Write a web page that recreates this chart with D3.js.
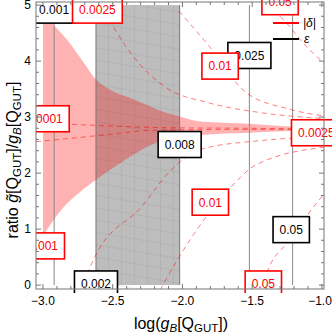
<!DOCTYPE html>
<html>
<head>
<meta charset="utf-8">
<script src="https://cdn.jsdelivr.net/npm/d3@7"></script>
<style>
  body { margin: 0; background: #fff; }
  text { font-family: "Liberation Sans", Arial, sans-serif; }
</style>
</head>
<body>
<svg id="chart" width="332" height="335"></svg>
<script>
// epsilon contours (vertical lines) and the grey excluded band
const epsLines = [-2.92, -1.52, -1.21];
const bandX = [-2.62, -2.02];
const bandY = [0, 5];

// red shaded region, upper and lower edge
const shadeUpper = [[-3.0, 4.87], [-2.93, 4.66], [-2.83, 4.39], [-2.71, 3.98], [-2.62, 3.67],
  [-2.52, 3.49], [-2.35, 3.32], [-2.12, 3.08], [-2.02, 3.01], [-1.87, 2.92], [-1.52, 2.88],
  [-1.23, 2.83], [-1.0, 2.80]];
const shadeLower = [[-3.0, 0.88], [-2.88, 1.31], [-2.73, 1.67], [-2.62, 1.88], [-2.41, 2.24],
  [-2.18, 2.55], [-2.02, 2.64], [-1.87, 2.68], [-1.52, 2.72], [-1.23, 2.75], [-1.0, 2.77]];

// dashed |delta| contours
const d0001Up = [[-3.05, 2.90], [-2.6, 2.85], [-2.12, 2.81], [-1.52, 2.80], [-0.96, 2.78]];
const d0001Lo = [[-3.05, 2.56], [-2.6, 2.67], [-2.18, 2.77], [-1.52, 2.78], [-0.96, 2.78]];
const d0025Up = [[-2.59, 5.02], [-2.355, 4.09], [-2.12, 3.53], [-1.82, 3.26], [-1.44, 3.08], [-0.96, 2.97]];
const d0025Lo = [[-2.71, 0.05], [-2.61, 0.59], [-2.30, 1.38], [-2.09, 2.03], [-1.875, 2.42], [-1.44, 2.58], [-0.96, 2.65]];
const d01Up = [[-2.025, 4.89], [-1.81, 4.27], [-1.545, 3.44], [-1.23, 3.14], [-0.96, 3.01]];
const d01Lo = [[-2.16, -0.09], [-2.12, 0.09], [-1.67, 1.70], [-1.47, 2.15], [-0.96, 2.47]];
const d05Up = [[-1.39, 5.02], [-1.265, 4.71], [-1.115, 4.27], [-0.96, 3.91]];
const d05Lo = [[-1.43, -0.09], [-1.40, 0.18], [-1.23, 0.81], [-1.065, 1.38], [-0.96, 1.70]];
const deltaCurves = [d0001Up, d0001Lo, d0025Up, d0025Lo, d01Up, d01Lo, d05Up, d05Lo];

// contour labels [text, x, y]
const epsLabels = [["0.001", -2.92, 4.91], ["0.002", -2.62, 0.02], ["0.008", -2.02, 2.51],
  ["0.025", -1.52, 4.10], ["0.05", -1.22, 0.99]];
const deltaLabels = [["0.0001", -2.99, 2.97], ["0.001", -3.0, 0.70], ["0.0025", -2.61, 4.91],
  ["0.01", -1.73, 3.91], ["0.01", -1.80, 1.48], ["0.05", -1.30, 5.06], ["0.05", -1.42, 0.02],
  ["0.0025", -1.04, 2.72]];

const xTicks = [-3.0, -2.5, -2.0, -1.5, -1.0];
const yTicks = [0, 1, 2, 3, 4, 5];

const pL = 36, pR = 324, pT = 2, pB = 289;
const svg = d3.select("#chart");

const x = d3.scaleLinear().domain([-3.05, -0.985]).range([pL, pR]);
const y = d3.scaleLinear().domain([-0.07, 5.055]).range([pB, pT]);

const defs = svg.append("defs");
defs.append("clipPath").attr("id", "plot")
  .append("rect").attr("x", pL).attr("y", pT).attr("width", pR - pL).attr("height", pB - pT);
defs.append("clipPath").attr("id", "labels")
  .append("rect").attr("x", pL).attr("y", -20).attr("width", 400).attr("height", 293 + 20);

const plot = svg.append("g").attr("clip-path", "url(#plot)");

// grey band
plot.append("rect")
  .attr("x", x(bandX[0])).attr("y", y(bandY[1]))
  .attr("width", x(bandX[1]) - x(bandX[0]))
  .attr("height", y(bandY[0]) - y(bandY[1]))
  .attr("fill", "#000").attr("fill-opacity", 0.26);

// faint mesh lines inside the band
const bandMesh = plot.append("g").attr("stroke", "#000").attr("stroke-opacity", 0.07).attr("stroke-width", 0.8);
d3.range(bandX[0] + 0.09, bandX[1], 0.093).forEach(v => {
  bandMesh.append("line").attr("x1", x(v)).attr("x2", x(v)).attr("y1", y(bandY[1])).attr("y2", y(bandY[0]));
});
d3.range(-0.6, 5.4, 0.22).forEach(v => {
  bandMesh.append("line")
    .attr("x1", x(bandX[0])).attr("y1", y(v))
    .attr("x2", x(bandX[1])).attr("y2", y(v) + 14);
});

// red shaded region
const line = d3.line().x(d => x(d[0])).y(d => y(d[1])).curve(d3.curveMonotoneX);
const upPath = line(shadeUpper);
const loPath = line(shadeLower.slice().reverse());
plot.append("path")
  .attr("d", upPath + "L" + loPath.slice(1) + "Z")
  .attr("fill", "#ff0000").attr("fill-opacity", 0.3);

// epsilon lines
plot.selectAll(".eps").data(epsLines).join("line")
  .attr("x1", d => x(d)).attr("x2", d => x(d))
  .attr("y1", y(bandY[0])).attr("y2", y(bandY[1]))
  .attr("stroke", "#888").attr("stroke-width", 1);
plot.selectAll(".bandEdge").data(bandX).join("line")
  .attr("x1", d => x(d)).attr("x2", d => x(d))
  .attr("y1", y(bandY[0])).attr("y2", y(bandY[1]))
  .attr("stroke", "#777").attr("stroke-width", 1);

// dashed delta contours
plot.selectAll(".delta").data(deltaCurves).join("path")
  .attr("d", line)
  .attr("fill", "none").attr("stroke", "#ff0000").attr("stroke-opacity", 0.5)
  .attr("stroke-width", 1).attr("stroke-dasharray", "5,4");

// labels
const lab = svg.append("g").attr("clip-path", "url(#labels)");
function drawLabels(data, color) {
  data.forEach(([t, lx, ly]) => {
    const g = lab.append("g").attr("transform", `translate(${x(lx)},${y(ly)})`);
    const txt = g.append("text").attr("text-anchor", "middle").attr("dy", "0.36em")
      .attr("font-size", 12).attr("fill", color).text(t);
    const w = txt.node().getComputedTextLength() + 13;
    g.insert("rect", "text").attr("x", -w / 2).attr("y", -13).attr("width", w).attr("height", 26)
      .attr("fill", "#fff").attr("stroke", color).attr("stroke-width", 1.6);
  });
}
drawLabels(epsLabels, "#000");
drawLabels(deltaLabels, "#ff0000");

// legend
const leg = svg.append("g");
leg.append("line").attr("x1", 273).attr("x2", 299).attr("y1", 23).attr("y2", 23).attr("stroke", "#ff0000").attr("stroke-width", 2);
leg.append("text").attr("x", 303).attr("y", 27).attr("font-size", 12).attr("font-style", "italic").text("|δ|");
leg.append("line").attr("x1", 273).attr("x2", 299).attr("y1", 39).attr("y2", 39).attr("stroke", "#000").attr("stroke-width", 2);
leg.append("text").attr("x", 304).attr("y", 43).attr("font-size", 12).attr("font-style", "italic").text("ε");

// frame and ticks
svg.append("rect").attr("x", pL).attr("y", pT).attr("width", pR - pL).attr("height", pB - pT)
  .attr("fill", "none").attr("stroke", "#777").attr("stroke-width", 1);

const xMinor = d3.range(-3.0, -0.99, 0.1);
const yMinor = d3.range(0, 5.01, 0.2);
const tk = svg.append("g").attr("stroke", "#777").attr("stroke-width", 1);
xMinor.forEach(v => {
  const major = xTicks.some(t => Math.abs(t - v) < 1e-6);
  const L = major ? 5 : 3;
  tk.append("line").attr("x1", x(v)).attr("x2", x(v)).attr("y1", pB).attr("y2", pB - L);
  tk.append("line").attr("x1", x(v)).attr("x2", x(v)).attr("y1", pT).attr("y2", pT + L);
});
yMinor.forEach(v => {
  const major = yTicks.some(t => Math.abs(t - v) < 1e-6);
  const L = major ? 5 : 3;
  tk.append("line").attr("y1", y(v)).attr("y2", y(v)).attr("x1", pL).attr("x2", pL + L);
  tk.append("line").attr("y1", y(v)).attr("y2", y(v)).attr("x1", pR).attr("x2", pR - L);
});

svg.selectAll(".xl").data(xTicks).join("text")
  .attr("x", d => Math.min(x(d), 320)).attr("y", pB + 16).attr("text-anchor", "middle").attr("font-size", 12)
  .text(d => d3.format(".1f")(d).replace("-", "\u2212"));
svg.selectAll(".yl").data(yTicks).join("text")
  .attr("x", pL - 5).attr("y", d => y(d)).attr("dy", "0.36em").attr("text-anchor", "end").attr("font-size", 12)
  .text(d => d);

// axis titles
const xt = svg.append("text").attr("x", 181).attr("y", 329).attr("text-anchor", "middle").attr("font-size", 16);
xt.append("tspan").text("log(");
xt.append("tspan").attr("font-style", "italic").text("g");
xt.append("tspan").attr("font-size", 11.5).attr("dy", 3).attr("font-style", "italic").text("B");
xt.append("tspan").attr("dy", -3).text("[Q");
xt.append("tspan").attr("font-size", 11.5).attr("dy", 3).text("GUT");
xt.append("tspan").attr("dy", -3).text("])");

const yt = svg.append("text").attr("transform", "translate(18,160) rotate(-90)")
  .attr("text-anchor", "middle").attr("font-size", 16);
yt.append("tspan").text("ratio ");
yt.append("tspan").attr("font-style", "italic").text("g\u0303");
yt.append("tspan").text("[Q");
yt.append("tspan").attr("font-size", 11.5).attr("dy", 3).text("GUT");
yt.append("tspan").attr("dy", -3).text("]/");
yt.append("tspan").attr("font-style", "italic").text("g");
yt.append("tspan").attr("font-size", 11.5).attr("dy", 3).attr("font-style", "italic").text("B");
yt.append("tspan").attr("dy", -3).text("[Q");
yt.append("tspan").attr("font-size", 11.5).attr("dy", 3).text("GUT");
yt.append("tspan").attr("dy", -3).text("]");
</script>
</body>
</html>
